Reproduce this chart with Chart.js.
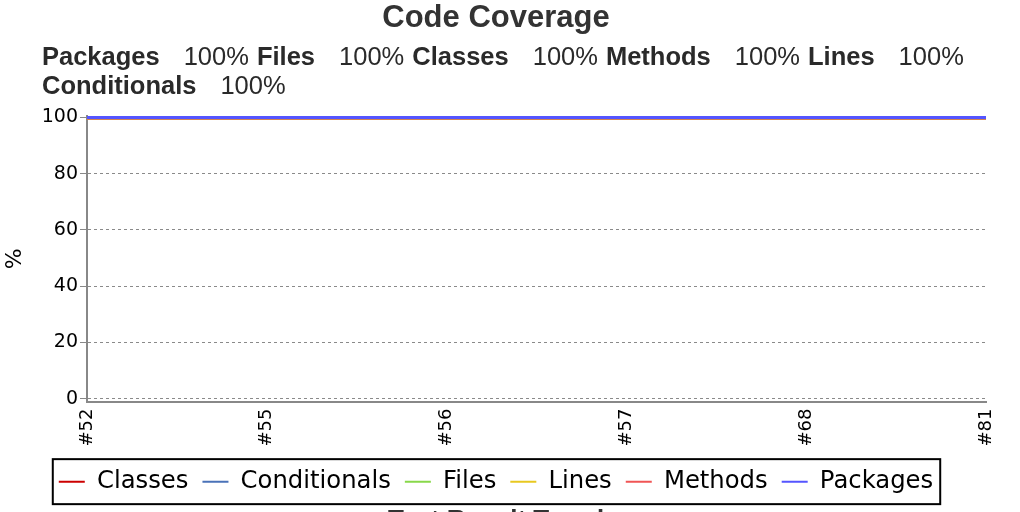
<!DOCTYPE html>
<html>
<head>
<meta charset="utf-8">
<script src="https://cdn.jsdelivr.net/npm/chart.js@4/dist/chart.umd.min.js"></script>
<style>
  html, body { margin: 0; padding: 0; background: #fff; overflow: hidden; width: 1020px; height: 512px; }
  .title { position: absolute; left: 0; width: 992px; top: 0; text-align: center;
    font: bold 31px "Liberation Sans", Arial, sans-serif; color: #333; line-height: 34px; }
  .summary { position: absolute; left: 42px; top: 42px; font: 25.5px "Liberation Sans", Arial, sans-serif;
    color: #2a2a2a; line-height: 29px; white-space: nowrap; }
  .summary b { font-weight: bold; }
  .summary .v { margin-left: 24px; margin-right: 8px; }
  #wrap { position: absolute; left: 0; top: 0; width: 1020px; height: 536px; }
</style>
</head>
<body>
<div id="wrap"><canvas id="myChart"></canvas></div>
<div class="title">Code Coverage</div>
<div class="summary">
  <b>Packages</b><span class="v">100%</span><b>Files</b><span class="v">100%</span><b>Classes</b><span class="v">100%</span><b>Methods</b><span class="v">100%</span><b>Lines</b><span class="v">100%</span><br>
  <b>Conditionals</b><span class="v">100%</span>
</div>
<script>
const builds = ["#52", "#55", "#56", "#57", "#68", "#81"];
const yTicks = [0, 20, 40, 60, 80, 100];

const seriesNames = ["Classes", "Conditionals", "Files", "Lines", "Methods", "Packages"];
const seriesColors = ["#cc0000", "#4a72b8", "#88d84a", "#e8c820", "#f05555", "#5555ff"];

const classes = [100, 100, 100, 100, 100, 100];
const conditionals = [100, 100, 100, 100, 100, 100];
const files = [100, 100, 100, 100, 100, 100];
const lines = [100, 100, 100, 100, 100, 100];
const methods = [100, 100, 100, 100, 100, 100];
const packages = [100, 100, 100, 100, 100, 100];

const seriesValues = [classes, conditionals, files, lines, methods, packages];

// draws the black frame around the legend items
const legendFrame = {
  id: "legendFrame",
  afterDraw(chart) {
    const lg = chart.legend;
    if (!lg || !lg.legendHitBoxes.length) return;
    const boxes = lg.legendHitBoxes;
    let left = Math.min(...boxes.map(b => b.left));
    let right = Math.max(...boxes.map(b => b.left + b.width));
    const mid = boxes[0].top + boxes[0].height / 2;
    const ctx = chart.ctx;
    ctx.save();
    ctx.strokeStyle = "#000";
    ctx.lineWidth = 2;
    ctx.strokeRect(left - 6, mid - 22.5, right - left + 13, 45);
    ctx.restore();
  }
};

const ctx = document.getElementById("myChart").getContext("2d");
const myChart = new Chart(ctx, {
  type: "line",
  data: {
    labels: builds,
    datasets: seriesNames.map((name, i) => ({
      label: name,
      data: seriesValues[i],
      borderColor: seriesColors[i],
      backgroundColor: seriesColors[i],
      borderWidth: name == "Packages" ? 3 : 4,
      pointRadius: 0,
      tension: 0,
      order: seriesNames.length - i
    }))
  },
  options: {
    responsive: true,
    maintainAspectRatio: false,
    animation: false,
    layout: { padding: { top: 116, left: 6, right: 34, bottom: 0 } },
    plugins: {
      tooltip: { enabled: false },
      title: {
        display: true,
        position: "bottom",
        text: "Test Result Trend",
        color: "#333",
        font: { family: "'Liberation Sans', Arial, sans-serif", size: 26, weight: "bold" },
        padding: { top: 1, bottom: 0 }
      },
      legend: {
        position: "bottom",
        labels: {
          color: "#000",
          font: { family: "'DejaVu Sans', sans-serif", size: 24.3 },
          boxWidth: 26,
          boxHeight: 2,
          padding: 14,
          sort: (a, b) => a.datasetIndex - b.datasetIndex,
          generateLabels(chart) {
            const items = Chart.defaults.plugins.legend.labels.generateLabels(chart);
            return items.map(it => Object.assign(it, { lineWidth: 0 }));
          }
        }
      }
    },
    scales: {
      x: {
        grid: { display: false, drawTicks: false },
        border: { display: true, color: "#888", width: 2 },
        ticks: {
          color: "#000",
          font: { family: "'DejaVu Sans', sans-serif", size: 18 },
          minRotation: 90,
          maxRotation: 90,
          padding: 7,
          autoSkip: false
        },
        afterFit(s) { s.height = 54; }
      },
      y: {
        min: -1,
        max: 100.5,
        afterBuildTicks(s) { s.ticks = yTicks.map(v => ({ value: v })); },
        grid: {
          color: "#8a8a8a",
          tickLength: 7,
          tickColor: "#888",
          tickBorderDash: []
        },
        border: { display: true, color: "#888", width: 2, dash: [3, 3] },
        ticks: {
          color: "#000",
          font: { family: "'DejaVu Sans', sans-serif", size: 19 },
          padding: 2
        },
        title: {
          display: true,
          text: "%",
          color: "#000",
          font: { family: "'DejaVu Sans', sans-serif", size: 22 },
          padding: { top: -4, bottom: 0 }
        },
        afterFit(s) { s.width = 81; }
      }
    }
  },
  plugins: [legendFrame]
});
</script>
</body>
</html>
